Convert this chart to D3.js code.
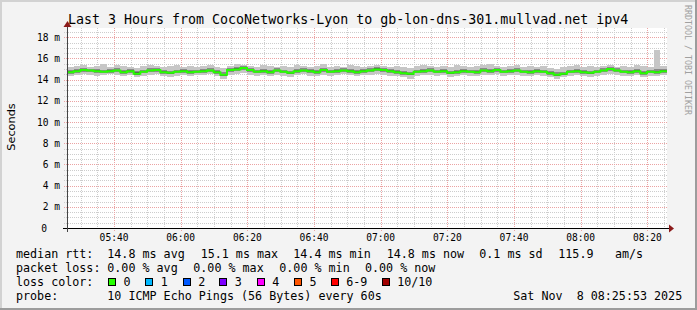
<!DOCTYPE html>
<html><head><meta charset="utf-8">
<script src="https://cdn.jsdelivr.net/npm/d3@7"></script>
<style>body{margin:0;background:#f3f3f3}svg{display:block}</style>
</head><body>
<svg id="c" width="697" height="310"></svg>
<script>
// ---- data (ms) : 90 steps of 2 minutes ----
const median = [14.7,14.8,14.9,14.85,14.8,14.75,14.8,14.85,14.7,14.8,
14.55,14.75,14.85,14.9,14.7,14.65,14.75,14.8,14.7,14.75,
14.8,14.85,14.7,14.45,14.9,14.95,15.1,14.9,14.75,14.8,
14.7,14.85,14.75,14.65,14.8,14.85,14.8,14.7,14.9,14.75,
14.8,14.85,14.8,14.7,14.8,14.85,14.95,14.9,14.8,14.7,
14.6,14.55,14.75,14.8,14.85,14.75,14.8,14.65,14.7,14.8,
14.75,14.7,14.85,14.8,14.9,14.75,14.8,14.85,14.75,14.7,
14.8,14.75,14.6,14.45,14.55,14.75,14.8,14.7,14.65,14.75,
14.85,15.0,14.85,14.75,14.7,14.8,14.6,14.75,14.7,14.8];
const maxPing = [15.2,15.3,15.4,15.2,15.3,15.5,15.2,15.4,15.3,15.2,
15.1,15.3,15.4,15.3,15.2,15.3,15.4,15.2,15.3,15.2,
15.3,15.4,15.2,15.1,15.3,15.5,15.4,15.3,15.2,15.4,
15.3,15.2,15.3,15.2,15.4,15.3,15.2,15.3,15.5,15.2,
15.3,15.2,15.4,15.3,15.2,15.3,15.4,15.3,15.2,15.3,
15.2,15.1,15.3,15.4,15.3,15.2,15.3,15.2,15.4,15.3,
15.2,15.3,15.4,15.5,15.3,15.2,15.3,15.4,15.2,15.3,
15.2,15.3,15.1,15.0,15.2,15.3,15.4,15.2,15.3,15.2,
15.3,15.4,15.2,15.3,15.2,15.4,15.3,15.2,16.8,15.3];
const minPing = [14.3,14.4,14.5,14.4,14.3,14.4,14.5,14.4,14.3,14.4,
14.2,14.3,14.4,14.5,14.3,14.2,14.3,14.4,14.3,14.4,
14.4,14.5,14.3,14.1,14.4,14.5,14.6,14.4,14.3,14.4,
14.3,14.4,14.3,14.2,14.4,14.5,14.3,14.3,14.4,14.3,
14.4,14.5,14.4,14.3,14.4,14.4,14.5,14.4,14.3,14.3,
14.2,14.1,14.3,14.4,14.4,14.3,14.4,14.2,14.3,14.4,
14.3,14.3,14.4,14.4,14.5,14.3,14.4,14.4,14.3,14.3,
14.4,14.3,14.2,14.1,14.2,14.3,14.4,14.3,14.2,14.3,
14.4,14.5,14.4,14.3,14.3,14.4,14.2,14.3,14.3,14.4];
const upperQ = [14.9,15.0,15.1,15.0,15.0,14.95,15.0,15.05,14.9,15.0,
14.8,14.95,15.05,15.1,14.9,14.85,14.95,15.0,14.9,14.95,
15.0,15.05,14.9,14.7,15.1,15.15,15.25,15.1,14.95,15.0,
14.9,15.05,14.95,14.85,15.0,15.05,15.0,14.9,15.1,14.95,
15.0,15.05,15.0,14.9,15.0,15.05,15.15,15.1,15.0,14.9,
14.8,14.75,14.95,15.0,15.05,14.95,15.0,14.85,14.9,15.0,
14.95,14.9,15.05,15.0,15.1,14.95,15.0,15.05,14.95,14.9,
15.0,14.95,14.8,14.7,14.75,14.95,15.0,14.9,14.85,14.95,
15.05,15.2,15.05,14.95,14.9,15.0,14.8,14.95,15.0,15.0];
const lowerQ = [14.55,14.65,14.75,14.7,14.6,14.6,14.65,14.7,14.55,14.65,
14.4,14.6,14.7,14.75,14.55,14.5,14.6,14.65,14.55,14.6,
14.65,14.7,14.55,14.3,14.7,14.8,14.9,14.75,14.6,14.65,
14.55,14.7,14.6,14.5,14.65,14.7,14.6,14.55,14.75,14.6,
14.65,14.7,14.65,14.55,14.65,14.7,14.8,14.75,14.6,14.55,
14.45,14.4,14.6,14.65,14.7,14.6,14.65,14.5,14.55,14.65,
14.6,14.55,14.7,14.65,14.75,14.6,14.65,14.7,14.6,14.55,
14.65,14.6,14.45,14.3,14.4,14.6,14.65,14.55,14.5,14.6,
14.7,14.85,14.7,14.6,14.55,14.65,14.45,14.6,14.55,14.65];
const yTickValues = [0,2,4,6,8,10,12,14,16,18];
const yTickLabels = ["0","2 m","4 m","6 m","8 m","10 m","12 m","14 m","16 m","18 m"];
const lossLabels = ["0","1","2","3","4","5","6-9","10/10"];
const lossColors = ["#26ff00","#00b8ff","#0059ff","#7e00ff","#ff00ff","#ff5500","#ff0000","#a10000"];
const startTime = new Date(Date.UTC(2025,10,8,5,25,53));
const endTime = new Date(Date.UTC(2025,10,8,8,25,53));
const stepMs = 2*60*1000;

const svg = d3.select("#c");
const mono = "DejaVu Sans Mono";
// canvas & frame
svg.append("rect").attr("width",697).attr("height",310).attr("fill","#f3f3f3");
svg.append("rect").attr("x",0).attr("y",0).attr("width",697).attr("height",2).attr("fill","#d2d2d2");
svg.append("rect").attr("x",0).attr("y",0).attr("width",2).attr("height",310).attr("fill","#d2d2d2");
svg.append("rect").attr("x",0).attr("y",308).attr("width",697).attr("height",2).attr("fill","#9c9c9c");
svg.append("rect").attr("x",695).attr("y",0).attr("width",2).attr("height",310).attr("fill","#9c9c9c");

const L=67, R=667, T=28, B=228;
const x = d3.scaleUtc().domain([startTime,endTime]).range([L,R]);
const y = d3.scaleLinear().domain([0,18.87]).range([B,T]);
svg.append("rect").attr("x",L).attr("y",T).attr("width",R-L).attr("height",B-T).attr("fill","#fff");

const g = svg.append("g").attr("shape-rendering","crispEdges");
// horizontal grid
const minorY = d3.range(0.5,18.6,0.5).filter(v=>v%2!==0);
g.selectAll(".hmin").data(minorY).join("line")
  .attr("x1",L-3).attr("x2",R).attr("y1",d=>Math.round(y(d))+0.5).attr("y2",d=>Math.round(y(d))+0.5)
  .attr("stroke","#cdcdcd").attr("stroke-dasharray","1,1");
// vertical grid
const majT = d3.utcMinute.every(20).range(startTime,endTime);
const minT = d3.utcMinute.every(5).range(startTime,endTime).filter(t=>t.getUTCMinutes()%20!==0);
g.selectAll(".vmin").data(minT).join("line")
  .attr("x1",d=>Math.round(x(d))+0.5).attr("x2",d=>Math.round(x(d))+0.5).attr("y1",T).attr("y2",B)
  .attr("stroke","#cdcdcd").attr("stroke-dasharray","1,1");
g.selectAll(".hmaj").data(yTickValues.slice(1)).join("line")
  .attr("x1",L-3).attr("x2",R).attr("y1",d=>Math.round(y(d))+0.5).attr("y2",d=>Math.round(y(d))+0.5)
  .attr("stroke","#eba3a3").attr("stroke-dasharray","1,1");
g.selectAll(".vmaj").data(majT).join("line")
  .attr("x1",d=>Math.round(x(d))+0.5).attr("x2",d=>Math.round(x(d))+0.5).attr("y1",T).attr("y2",B+3)
  .attr("stroke","#eba3a3").attr("stroke-dasharray","1,1");

// smoke
const idx = d3.range(median.length);
const t0 = i=>new Date(startTime.getTime()+i*stepMs);
const sm = svg.append("g").attr("shape-rendering","crispEdges");
const xs = i=>Math.round(x(t0(i)));
const band = (cls,hi,lo,col)=>sm.selectAll("."+cls).data(idx).join("rect")
  .attr("x",i=>xs(i)).attr("width",i=>xs(i+1)-xs(i))
  .attr("y",i=>Math.round(y(hi(i)))).attr("height",i=>Math.max(1,Math.round(y(lo(i)))-Math.round(y(hi(i)))))
  .attr("fill",col);
band("o",i=>maxPing[i],i=>minPing[i],"#c6c6c6");
band("q",i=>upperQ[i],i=>lowerQ[i],"#8a8a8a");
band("c",i=>(upperQ[i]+median[i])/2,i=>(lowerQ[i]+median[i])/2,"#555555");
// median step line
const pts=[];
idx.forEach(i=>{pts.push([x(t0(i)),y(median[i])]);pts.push([x(t0(i+1)),y(median[i])]);});
svg.append("path").attr("d",d3.line().curve(d3.curveLinear)(pts))
  .attr("fill","none").attr("stroke","#26ff00").attr("stroke-width",2);

// axes
const ax = svg.append("g").attr("shape-rendering","crispEdges");
ax.append("line").attr("x1",L-4).attr("x2",R+3).attr("y1",B+0.5).attr("y2",B+0.5).attr("stroke","#000");
ax.append("line").attr("x1",L+0.5).attr("x2",L+0.5).attr("y1",B+4).attr("y2",T-2).attr("stroke","#444");
svg.append("path").attr("d",`M${L-3.5},${T-1} L${L+0.5},${T-7} L${L+4.5},${T-1} Z`).attr("fill","#8b1a1a");
svg.append("path").attr("d",`M${R+2},${B-3.5} L${R+7},${B+0.5} L${R+2},${B+4.5} Z`).attr("fill","#8b1a1a");

// x tick labels
svg.selectAll(".xl").data(majT).join("text")
  .attr("x",d=>x(d)).attr("y",241).attr("text-anchor","middle")
  .attr("font-family",mono).attr("font-size",9.6).attr("fill","#000")
  .text(d=>d3.utcFormat("%H:%M")(d));
// y tick labels
svg.selectAll(".yl").data(yTickValues).join("text")
  .attr("x",(d,i)=>i===0?47:60).attr("y",d=>y(d)+3.5).attr("text-anchor","end")
  .attr("font-family",mono).attr("font-size",9.6).attr("fill","#000")
  .text((d,i)=>yTickLabels[i]);

// title
svg.append("text").attr("x",68).attr("y",24).attr("font-family",mono).attr("font-size",13.3)
  .attr("fill","#000").text("Last 3 Hours from CocoNetworks-Lyon to gb-lon-dns-301.mullvad.net ipv4");
// y label
svg.append("text").attr("transform","translate(14.5,127) rotate(-90)").attr("text-anchor","middle")
  .attr("font-family","DejaVu Sans").attr("font-size",11.3).attr("fill","#000").text("Seconds");
// watermark
svg.append("text").attr("transform","translate(685,5) rotate(90)")
  .attr("font-family",mono).attr("font-size",8.3).attr("fill","#a0a0a0").text("RRDTOOL / TOBI OETIKER");

// legend
const lf = 11.7;
function txt(xp,yp,s){svg.append("text").attr("x",xp).attr("y",yp).attr("font-family",mono)
  .attr("font-size",lf).attr("fill","#000").attr("xml:space","preserve").style("white-space","pre").text(s);}
txt(16,258,"median rtt:");
txt(107.3,258,"14.8 ms avg");
txt(200.7,258,"15.1 ms max");
txt(293.3,258,"14.4 ms min");
txt(386.7,258,"14.8 ms now");
txt(479.3,258,"0.1 ms sd");
txt(558.3,258,"115.9");
txt(615,258,"am/s");
txt(16,272,"packet loss:");
txt(107.3,272,"0.00 % avg");
txt(193.3,272,"0.00 % max");
txt(279.3,272,"0.00 % min");
txt(365,272,"0.00 % now");
txt(16,286,"loss color:");
const boxX = [108,145.3,182.7,219.3,256.7,294,330.7,381.7];
lossLabels.forEach((lab,i)=>{
  svg.append("rect").attr("x",Math.round(boxX[i])+0.5).attr("y",278.5).attr("width",7).attr("height",7)
    .attr("fill",lossColors[i]).attr("stroke","#000").attr("stroke-width",1);
  txt(boxX[i]+15.5,286,lab);
});
txt(16,300,"probe:");
txt(107.3,300,"10 ICMP Echo Pings (56 Bytes) every 60s");
txt(513.3,300,"Sat Nov  8 08:25:53 2025");
</script>
</body></html>
